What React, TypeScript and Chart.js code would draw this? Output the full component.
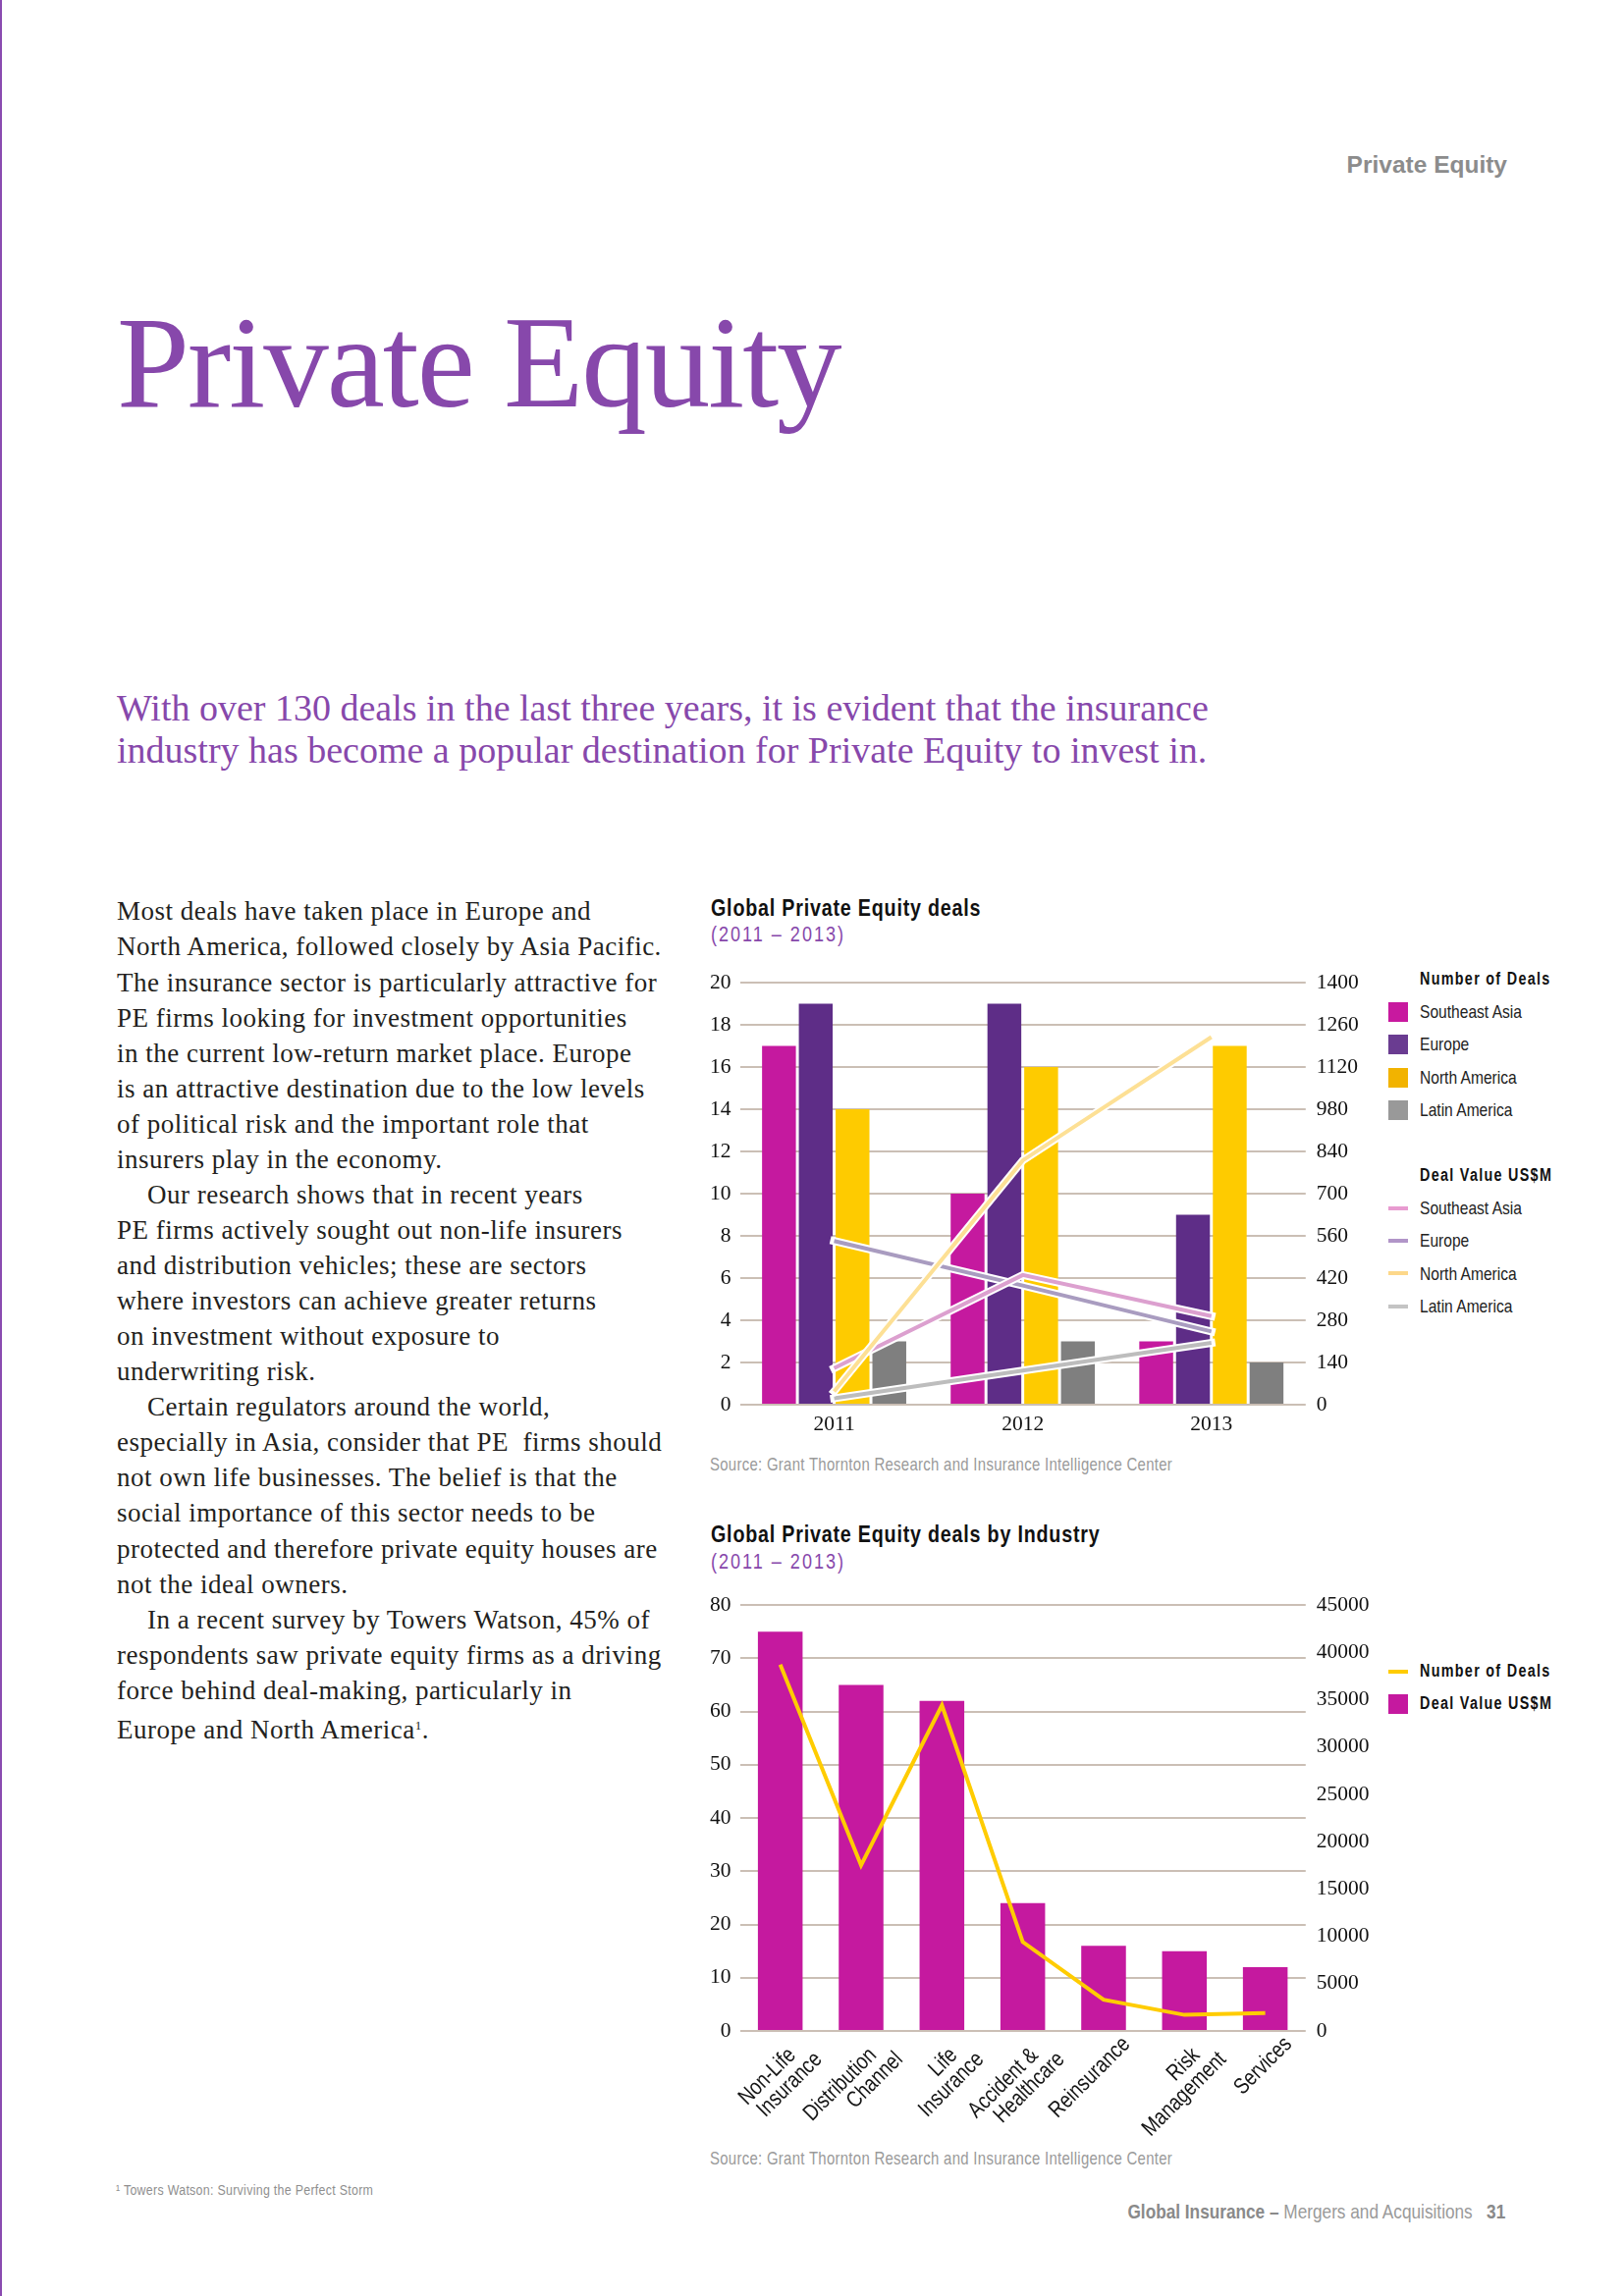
import React, { useEffect, useRef } from "react";
import { Chart, registerables } from "chart.js";

Chart.register(...registerables);

// ---------- DATA ----------
const years = ["2011", "2012", "2013"];
const dealsSoutheastAsia = [17, 10, 3];
const dealsEurope = [19, 19, 9];
const dealsNorthAmerica = [14, 16, 17];
const dealsLatinAmerica = [3, 3, 2];
const valueSoutheastAsia = [121, 430, 294];
const valueEurope = [543, 395, 243];
const valueNorthAmerica = [44, 810, 1219];
const valueLatinAmerica = [21, 113, 205];

const industries = [
  ["Non-Life", "Insurance"],
  ["Distribution", "Channel"],
  ["Life", "Insurance"],
  ["Accident &", "Healthcare"],
  "Reinsurance",
  ["Risk", "Management"],
  "Services",
];
const industryBarValues = [75, 65, 62, 24, 16, 15, 12];
const industryLineValues = [38700, 17500, 34400, 9400, 3300, 1700, 1900];

const bodyLines = [
  "Most deals have taken place in Europe and",
  "North America, followed closely by Asia Pacific.",
  "The insurance sector is particularly attractive for",
  "PE firms looking for investment opportunities",
  "in the current low-return market place. Europe",
  "is an attractive destination due to the low levels",
  "of political risk and the important role that",
  "insurers play in the economy.",
  "\tOur research shows that in recent years",
  "PE firms actively sought out non-life insurers",
  "and distribution vehicles; these are sectors",
  "where investors can achieve greater returns",
  "on investment without exposure to",
  "underwriting risk.",
  "\tCertain regulators around the world,",
  "especially in Asia, consider that PE  firms should",
  "not own life businesses. The belief is that the",
  "social importance of this sector needs to be",
  "protected and therefore private equity houses are",
  "not the ideal owners.",
  "\tIn a recent survey by Towers Watson, 45% of",
  "respondents saw private equity firms as a driving",
  "force behind deal-making, particularly in",
  "Europe and North America\u00b9.",
];

// ---------- STYLE ----------
const SANS = "'Liberation Sans', Arial, sans-serif";
const SERIF = "'Liberation Serif', 'Times New Roman', serif";
const NARROW_SCALE = 0.82;
const PURPLE = "#8748ab";
const GRID = "#cbbfb5";
const C_MAGENTA = "#c5199f";
const C_PURPLE = "#5e2d87";
const C_YELLOW = "#fecb00";
const C_GRAY = "#7f7f7f";
const L_PINK = "#dca0cf";
const L_LAV = "#a99cc0";
const L_YEL = "#fde095";
const L_GRAY = "#bdbdbd";

const outlinePlugin = {
  id: "whiteOutline",
  beforeDatasetDraw(chart: any, args: any) {
    const meta = args.meta;
    if (meta.type !== "line") return;
    const ds: any = chart.data.datasets[args.index];
    if (!ds.outline) return;
    const ctx = chart.ctx;
    ctx.save();
    ctx.beginPath();
    meta.data.forEach((p: any, i: number) => (i ? ctx.lineTo(p.x, p.y) : ctx.moveTo(p.x, p.y)));
    ctx.lineWidth = ds.borderWidth + 4;
    ctx.strokeStyle = "#ffffff";
    ctx.lineCap = "square";
    ctx.lineJoin = "miter";
    ctx.stroke();
    ctx.restore();
  },
};

// rotated, condensed category labels for the industry chart
const industryLabelPlugin = {
  id: "industryLabels",
  afterDraw(chart: any) {
    const xs = chart.scales.x;
    const ctx = chart.ctx;
    const bottom = chart.chartArea.bottom;
    ctx.save();
    ctx.fillStyle = "#151515";
    ctx.font = `23px ${SANS}`;
    ctx.textAlign = "right";
    ctx.textBaseline = "alphabetic";
    industries.forEach((lab, i) => {
      const lines = Array.isArray(lab) ? lab : [lab];
      const px = xs.getPixelForValue(i);
      ctx.save();
      ctx.translate(px, bottom);
      ctx.rotate(-Math.PI / 4);
      lines.forEach((ln, j) => {
        const u = j === lines.length - 1 ? 9.5 : -6.4;
        const v = 30 + 22 * j;
        ctx.save();
        ctx.translate(u, v);
        ctx.scale(NARROW_SCALE, 1);
        ctx.fillText(ln, 0, 0);
        ctx.restore();
      });
      ctx.restore();
    });
    ctx.restore();
  },
};

function useChart(config: () => any) {
  const ref = useRef<HTMLCanvasElement | null>(null);
  useEffect(() => {
    if (!ref.current) return;
    const chart = new Chart(ref.current, config());
    return () => chart.destroy();
  }, []);
  return ref;
}

const tickNum = { family: SERIF, size: 21.5 };
const plain = (v: any) => String(v);

function DealsChart() {
  const ref = useChart(() => ({
    type: "bar",
    data: {
      labels: years,
      datasets: [
        { type: "line", label: "NA value", data: valueNorthAmerica, borderColor: L_YEL, borderWidth: 4, pointRadius: 0, yAxisID: "yR", order: 0, outline: true },
        { type: "line", label: "SEA value", data: valueSoutheastAsia, borderColor: L_PINK, borderWidth: 4, pointRadius: 0, yAxisID: "yR", order: 1, outline: true },
        { type: "line", label: "EU value", data: valueEurope, borderColor: L_LAV, borderWidth: 4, pointRadius: 0, yAxisID: "yR", order: 2, outline: true },
        { type: "line", label: "LA value", data: valueLatinAmerica, borderColor: L_GRAY, borderWidth: 4, pointRadius: 0, yAxisID: "yR", order: 3, outline: true },
        { type: "bar", label: "Southeast Asia", data: dealsSoutheastAsia, backgroundColor: C_MAGENTA, yAxisID: "y", order: 10, categoryPercentage: 0.78, barPercentage: 0.92 },
        { type: "bar", label: "Europe", data: dealsEurope, backgroundColor: C_PURPLE, yAxisID: "y", order: 11, categoryPercentage: 0.78, barPercentage: 0.92 },
        { type: "bar", label: "North America", data: dealsNorthAmerica, backgroundColor: C_YELLOW, yAxisID: "y", order: 12, categoryPercentage: 0.78, barPercentage: 0.92 },
        { type: "bar", label: "Latin America", data: dealsLatinAmerica, backgroundColor: C_GRAY, yAxisID: "y", order: 13, categoryPercentage: 0.78, barPercentage: 0.92 },
      ],
    },
    options: {
      animation: false,
      responsive: false,
      maintainAspectRatio: false,
      layout: { padding: { top: 20.2, left: 0, right: 0, bottom: 0 } },
      plugins: { legend: { display: false }, tooltip: { enabled: false } },
      scales: {
        x: {
          grid: { display: false, drawTicks: false },
          border: { display: false },
          ticks: { font: tickNum, color: "#111", padding: 7 },
          afterFit: (s: any) => { s.height = 46; },
        },
        y: {
          position: "left",
          min: 0,
          max: 20,
          ticks: { stepSize: 2, font: tickNum, color: "#111", padding: 9, callback: plain },
          grid: { color: GRID, lineWidth: 2, drawTicks: false },
          border: { display: false },
          afterFit: (s: any) => { s.width = 53.5; },
        },
        yR: {
          position: "right",
          min: 0,
          max: 1400,
          ticks: { stepSize: 140, font: tickNum, color: "#111", padding: 11, callback: plain },
          grid: { display: false, drawTicks: false },
          border: { display: false },
          afterFit: (s: any) => { s.width = 70.2; },
        },
      },
    },
    plugins: [outlinePlugin],
  }));
  return (
    <canvas ref={ref} width={700} height={500}
      style={{ position: "absolute", left: 700, top: 977, width: 700, height: 500 }} />
  );
}

function IndustryChart() {
  const ref = useChart(() => ({
    type: "bar",
    data: {
      labels: industries,
      datasets: [
        { type: "line", label: "Number of Deals", data: industryLineValues, borderColor: "#ffcc00", borderWidth: 4, pointRadius: 0, yAxisID: "yR", order: 0 },
        { type: "bar", label: "Deal Value US$M", data: industryBarValues, backgroundColor: C_MAGENTA, yAxisID: "y", order: 1, categoryPercentage: 0.553, barPercentage: 1 },
      ],
    },
    options: {
      animation: false,
      responsive: false,
      maintainAspectRatio: false,
      layout: { padding: { top: 25, left: 0, right: 0, bottom: 0 } },
      plugins: { legend: { display: false }, tooltip: { enabled: false } },
      scales: {
        x: {
          grid: { display: false, drawTicks: false },
          border: { display: false },
          ticks: { display: false },
          afterFit: (s: any) => { s.height = 111; },
        },
        y: {
          position: "left",
          min: 0,
          max: 80,
          ticks: { stepSize: 10, font: tickNum, color: "#111", padding: 9, callback: plain },
          grid: { color: GRID, lineWidth: 2, drawTicks: false },
          border: { display: false },
          afterFit: (s: any) => { s.width = 53.5; },
        },
        yR: {
          position: "right",
          min: 0,
          max: 45000,
          ticks: { stepSize: 5000, font: tickNum, color: "#111", padding: 11, callback: plain },
          grid: { display: false, drawTicks: false },
          border: { display: false },
          afterFit: (s: any) => { s.width = 70.2; },
        },
      },
    },
    plugins: [industryLabelPlugin],
  }));
  return (
    <canvas ref={ref} width={700} height={570}
      style={{ position: "absolute", left: 700, top: 1610, width: 700, height: 570 }} />
  );
}

type TP = {
  x: number; base: number; size: number; family?: string; weight?: number; color?: string;
  ls?: number; right?: boolean; serif?: boolean; narrow?: boolean; children: any;
};
// text positioned by its baseline; "narrow" emulates a condensed face
function T({ x, base, size, family = SANS, weight = 400, color = "#111", ls = 0, right = false, serif = false, narrow = true, children }: TP) {
  const top = base - size * (serif ? 0.8375 : 0.8465);
  const k = narrow && !serif ? NARROW_SCALE : 1;
  const st: any = {
    position: "absolute", top, fontFamily: family, fontSize: size, fontWeight: weight,
    color, letterSpacing: ls / k, lineHeight: 1, whiteSpace: "pre",
  };
  if (k !== 1) {
    st.transform = `scaleX(${k})`;
    st.transformOrigin = right ? "right top" : "left top";
  }
  if (right) st.right = 1654 - x; else st.left = x;
  return <div style={st}>{children}</div>;
}

function Swatch({ x, y, color, line = false }: { x: number; y: number; color: string; line?: boolean }) {
  return (
    <div style={{
      position: "absolute", left: x, top: line ? y - 2 : y - 10, width: 20, height: line ? 4 : 20, background: color,
    }} />
  );
}

export default function App() {
  const legendX = 1446;
  const swX = 1414;
  return (
    <div style={{ position: "absolute", left: 0, top: 0, width: 1654, height: 2339, background: "#fff", overflow: "hidden" }}>
      <div style={{ position: "absolute", left: 0, top: 0, width: 1.5, height: 2339, background: "#8a4bb0" }} />

      <T x={1535} base={176.7} size={24.5} weight={700} color="#8c8c8c" right narrow={false}>Private Equity</T>

      <T x={119} base={414.3} size={133} family={SERIF} color={PURPLE} ls={-2} serif>Private Equity</T>

      <div style={{
        position: "absolute", left: 119, top: 700, fontFamily: SERIF, fontSize: 38, lineHeight: "43px", color: PURPLE,
        whiteSpace: "pre",
      }}>
        {"With over 130 deals in the last three years, it is evident that the insurance\nindustry has become a popular destination for Private Equity to invest in."}
      </div>

      <div style={{
        position: "absolute", left: 119, top: 910.4, fontFamily: SERIF, fontSize: 27, lineHeight: "36.07px",
        color: "#231f20", letterSpacing: 0.5, whiteSpace: "pre",
      }}>
        {bodyLines.map((l, i) => {
          const indent = l.startsWith("\t");
          const txt = indent ? l.slice(1) : l;
          if (txt.endsWith("\u00b9.")) {
            return (
              <div key={i}>
                {txt.slice(0, -2)}
                <span style={{ fontSize: 13, verticalAlign: "9px" }}>{"1"}</span>.
              </div>
            );
          }
          return <div key={i} style={{ paddingLeft: indent ? 31 : 0 }}>{txt}</div>;
        })}
      </div>

      {/* Chart 1 */}
      <T x={723.7} base={932.9} size={24} weight={700} ls={0.8} color="#111">Global Private Equity deals</T>
      <T x={723.7} base={960} size={22} ls={2} color={PURPLE}>(2011 – 2013)</T>
      <DealsChart />
      <T x={723} base={1498} size={18.2} ls={0.3} color="#9a9a9a">Source: Grant Thornton Research and Insurance Intelligence Center</T>

      <T x={legendX} base={1004} size={17.5} weight={700} ls={1.3} color="#111">Number of Deals</T>
      <Swatch x={swX} y={1031} color="#c8199f" />
      <T x={legendX} base={1037.3} size={19} color="#222">Southeast Asia</T>
      <Swatch x={swX} y={1064} color="#6a3c91" />
      <T x={legendX} base={1070.5} size={19} color="#222">Europe</T>
      <Swatch x={swX} y={1097.5} color="#f2b300" />
      <T x={legendX} base={1104} size={19} color="#222">North America</T>
      <Swatch x={swX} y={1131} color="#999999" />
      <T x={legendX} base={1137.3} size={19} color="#222">Latin America</T>

      <T x={legendX} base={1204.3} size={17.5} weight={700} ls={1.3} color="#111">Deal Value US$M</T>
      <Swatch x={swX} y={1230.7} color="#e89bd0" line />
      <T x={legendX} base={1237.3} size={19} color="#222">Southeast Asia</T>
      <Swatch x={swX} y={1264} color="#b195c8" line />
      <T x={legendX} base={1270.5} size={19} color="#222">Europe</T>
      <Swatch x={swX} y={1297.3} color="#fdd88a" line />
      <T x={legendX} base={1304} size={19} color="#222">North America</T>
      <Swatch x={swX} y={1330.7} color="#c4c4c4" line />
      <T x={legendX} base={1337.3} size={19} color="#222">Latin America</T>

      {/* Chart 2 */}
      <T x={723.7} base={1571.5} size={24} weight={700} ls={0.8} color="#111">Global Private Equity deals by Industry</T>
      <T x={723.7} base={1599} size={22} ls={2} color={PURPLE}>(2011 – 2013)</T>
      <IndustryChart />
      <T x={723} base={2205.5} size={18.2} ls={0.3} color="#9a9a9a">Source: Grant Thornton Research and Insurance Intelligence Center</T>

      <Swatch x={swX} y={1703} color="#ffcc00" line />
      <T x={legendX} base={1709} size={17.5} weight={700} ls={1.3} color="#111">Number of Deals</T>
      <Swatch x={swX} y={1736} color="#c5199f" />
      <T x={legendX} base={1742} size={17.5} weight={700} ls={1.3} color="#111">Deal Value US$M</T>

      <T x={118} base={2236} size={15.1} ls={0.3} color="#8f8f8f">{"\u00b9 Towers Watson: Surviving the Perfect Storm"}</T>

      <div style={{
        position: "absolute", right: 1654 - 1533, top: 2260 - 21 * 0.8465, fontFamily: SANS, fontSize: 21,
        lineHeight: 1, whiteSpace: "pre", color: "#9a9a9a", transform: `scaleX(${NARROW_SCALE})`, transformOrigin: "right top",
      }}>
        <span style={{ fontWeight: 700, color: "#8a8a8a" }}>Global Insurance –</span>
        {" Mergers and Acquisitions   "}
        <span style={{ fontWeight: 700, color: "#8a8a8a" }}>31</span>
      </div>
    </div>
  );
}
